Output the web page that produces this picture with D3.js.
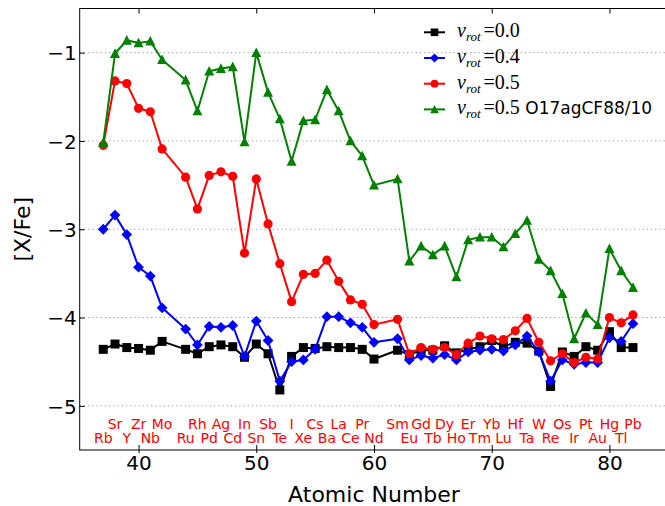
<!DOCTYPE html>
<html>
<head>
<meta charset="utf-8">
<script src="https://cdn.jsdelivr.net/npm/d3@7"></script>
<style>
    body { margin: 0; background: #fff; }
    svg { display: block; font-family: "DejaVu Sans", sans-serif; }
    .grid line { stroke: #999; stroke-dasharray: 1.2,3; }
    .axis text { font-size: 20px; fill: #000; }
    .axis line { stroke: #000; }
    .elem { font-size: 14px; fill: #ff0000; text-anchor: middle; }
</style>
</head>
<body>
<svg id="chart" width="665" height="506"></svg>
<script>
// atomic numbers and element symbols (Tc and Pm are missing)
var atomicNumbers = [37, 38, 39, 40, 41, 42, 44, 45, 46, 47, 48, 49, 50, 51, 52, 53, 54, 55, 56, 57, 58, 59, 60,
    62, 63, 64, 65, 66, 67, 68, 69, 70, 71, 72, 73, 74, 75, 76, 77, 78, 79, 80, 81, 82];
var elements = ['Rb', 'Sr', 'Y', 'Zr', 'Nb', 'Mo', 'Ru', 'Rh', 'Pd', 'Ag', 'Cd', 'In', 'Sn', 'Sb', 'Te', 'I', 'Xe',
    'Cs', 'Ba', 'La', 'Ce', 'Pr', 'Nd', 'Sm', 'Eu', 'Gd', 'Tb', 'Dy', 'Ho', 'Er', 'Tm', 'Yb', 'Lu', 'Hf', 'Ta',
    'W', 'Re', 'Os', 'Ir', 'Pt', 'Au', 'Hg', 'Tl', 'Pb'];

var vrot00 = [-4.36, -4.30, -4.34, -4.35, -4.37, -4.27, -4.36, -4.41, -4.33, -4.31, -4.33, -4.45, -4.30, -4.41,
    -4.82, -4.44, -4.34, -4.35, -4.33, -4.34, -4.34, -4.36, -4.47, -4.37, -4.42, -4.37, -4.37, -4.32, -4.40,
    -4.36, -4.33, -4.26, -4.33, -4.28, -4.29, -4.38, -4.78, -4.39, -4.44, -4.33, -4.37, -4.16, -4.34, -4.34];
var vrot04 = [-3.00, -2.84, -3.06, -3.43, -3.53, -3.89, -4.13, -4.31, -4.10, -4.11, -4.09, -4.44, -4.04, -4.26,
    -4.72, -4.50, -4.48, -4.36, -3.99, -3.99, -4.06, -4.11, -4.28, -4.24, -4.48, -4.43, -4.46, -4.42, -4.48,
    -4.39, -4.37, -4.36, -4.38, -4.31, -4.21, -4.39, -4.72, -4.48, -4.53, -4.51, -4.51, -4.23, -4.27, -4.07];
var vrot05 = [-2.05, -1.32, -1.35, -1.63, -1.67, -2.09, -2.41, -2.77, -2.39, -2.35, -2.40, -3.27, -2.43, -2.94,
    -3.39, -3.82, -3.51, -3.50, -3.35, -3.59, -3.80, -3.85, -4.08, -4.02, -4.41, -4.34, -4.36, -4.34, -4.42,
    -4.29, -4.21, -4.24, -4.25, -4.15, -4.01, -4.28, -4.49, -4.41, -4.51, -4.45, -4.47, -4.00, -4.06, -3.97];
var vrot05cf88 = [-2.02, -1.01, -0.86, -0.89, -0.87, -1.08, -1.31, -1.66, -1.21, -1.18, -1.16, -2.01, -1.00, -1.45,
    -1.75, -2.23, -1.77, -1.76, -1.42, -1.66, -2.00, -2.17, -2.50, -2.43, -3.36, -3.19, -3.29, -3.19, -3.54,
    -3.12, -3.09, -3.09, -3.20, -3.05, -2.90, -3.34, -3.47, -3.73, -4.24, -3.95, -4.08, -3.22, -3.47, -3.66];

var xTicks = [40, 50, 60, 70, 80];
var yTicks = [-5, -4, -3, -2, -1];

var series = [
    {value: '0.0', extra: '', color: '#000000', marker: 'square', values: vrot00},
    {value: '0.4', extra: '', color: '#0000ff', marker: 'diamond', values: vrot04},
    {value: '0.5', extra: '', color: '#ff0000', marker: 'circle', values: vrot05},
    {value: '0.5', extra: ' O17agCF88/10', color: '#008000', marker: 'triangle', values: vrot05cf88}
];

var svg = d3.select('#chart');

var plotLeft = 79.7, plotRight = 668.3, plotTop = 8.5, plotBottom = 450;

var x = d3.scaleLinear().domain([35, 85]).range([plotLeft, plotRight]);
var y = d3.scaleLinear().domain([-5.5, -0.5]).range([plotBottom, plotTop]);

var markerPath = {
    square: d3.symbol().type(d3.symbolSquare).size(81)(),
    diamond: d3.symbol().type(d3.symbolSquare).size(58)(),
    circle: d3.symbol().type(d3.symbolCircle).size(Math.PI * 4.6 * 4.6)(),
    triangle: 'M0,-5.2L5,4.4L-5,4.4Z'
};
var markerRotate = {square: 0, diamond: 45, circle: 0, triangle: 0};

// horizontal dotted grid
svg.append('g')
    .attr('class', 'grid')
    .selectAll('line')
    .data(yTicks)
    .join('line')
    .attr('x1', plotLeft)
    .attr('x2', plotRight)
    .attr('y1', d => y(d))
    .attr('y2', d => y(d));

// element labels, alternating rows
svg.append('g')
    .selectAll('text')
    .data(elements)
    .join('text')
    .attr('class', 'elem')
    .attr('x', (d, i) => x(atomicNumbers[i]))
    .attr('y', (d, i) => i % 2 === 0 ? y(-5.418) : y(-5.259))
    .text(d => d);

// data
var line = d3.line()
    .x(d => x(d[0]))
    .y(d => y(d[1]));

series.forEach(s => {
    var pts = atomicNumbers.map((z, i) => [z, s.values[i]]);
    var g = svg.append('g');

    g.append('path')
        .attr('d', line(pts))
        .attr('fill', 'none')
        .attr('stroke', s.color)
        .attr('stroke-width', 2)
        .attr('stroke-linejoin', 'round');

    g.selectAll('path.marker')
        .data(pts)
        .join('path')
        .attr('class', 'marker')
        .attr('d', markerPath[s.marker])
        .attr('transform', d => `translate(${x(d[0])},${y(d[1])}) rotate(${markerRotate[s.marker]})`)
        .attr('fill', s.color);
});

// axes
var xAxis = d3.axisBottom(x).tickValues(xTicks).tickSizeInner(-5).tickSizeOuter(0).tickPadding(6);
var xTop = d3.axisTop(x).tickValues(xTicks).tickSizeInner(-5).tickSizeOuter(0).tickFormat('');
var yAxis = d3.axisLeft(y).tickValues(yTicks).tickSizeInner(-5).tickSizeOuter(0).tickPadding(3)
    .tickFormat(d3.format('d'));

var gX = svg.append('g').attr('class', 'axis')
    .attr('transform', `translate(0,${plotBottom})`).call(xAxis);
var gTop = svg.append('g').attr('class', 'axis')
    .attr('transform', `translate(0,${plotTop})`).call(xTop);
var gY = svg.append('g').attr('class', 'axis')
    .attr('transform', `translate(${plotLeft},0)`).call(yAxis);

[gX, gTop, gY].forEach(g => {
    g.select('.domain').remove();
    g.attr('font-family', null).attr('font-size', null);
});
gY.selectAll('text').attr('dy', '0.36em');
// bottom ticks cross the spine a little
gX.selectAll('.tick line').attr('y1', 3);

svg.append('rect')
    .attr('x', plotLeft)
    .attr('y', plotTop)
    .attr('width', plotRight - plotLeft)
    .attr('height', plotBottom - plotTop)
    .attr('fill', 'none')
    .attr('stroke', '#000')
    .attr('stroke-width', 1);

svg.append('text')
    .attr('x', (plotLeft + plotRight) / 2)
    .attr('y', 502)
    .attr('text-anchor', 'middle')
    .attr('font-size', 22)
    .text('Atomic Number');

svg.append('text')
    .attr('transform', `translate(30,${(plotTop + plotBottom) / 2}) rotate(-90)`)
    .attr('text-anchor', 'middle')
    .attr('font-size', 22)
    .text('[X/Fe]');

// legend (no frame)
var legend = svg.append('g').attr('transform', 'translate(424,32.3)');

var rows = legend.selectAll('g')
    .data(series)
    .join('g')
    .attr('transform', (d, i) => `translate(0,${i * 25.7})`);

rows.append('line')
    .attr('x1', 0)
    .attr('x2', 21)
    .attr('stroke', d => d.color)
    .attr('stroke-width', 2);

rows.append('path')
    .attr('d', d => markerPath[d.marker])
    .attr('transform', d => `translate(10.5,0) rotate(${markerRotate[d.marker]}) scale(0.85)`)
    .attr('fill', d => d.color);

var label = rows.append('text')
    .attr('x', 33)
    .attr('y', 5)
    .attr('font-family', '"Liberation Serif", "DejaVu Serif", serif')
    .attr('font-size', 20);

label.append('tspan').attr('font-style', 'italic').text('v');
label.append('tspan').attr('font-style', 'italic').attr('font-size', 13).attr('dy', 4).text('rot');
label.append('tspan').attr('dy', -4).attr('dx', 3).text(d => '=' + d.value);
label.append('tspan')
    .attr('font-family', '"DejaVu Sans", sans-serif')
    .attr('font-size', 17)
    .text(d => d.extra);
</script>
</body>
</html>
